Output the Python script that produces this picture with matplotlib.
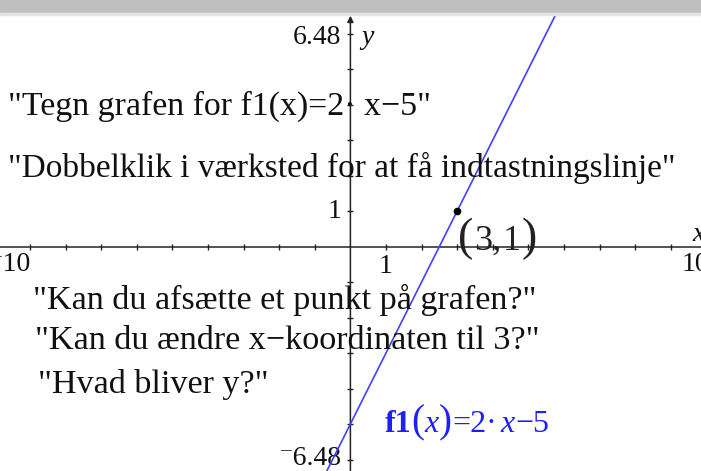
import matplotlib
matplotlib.use("Agg")
from matplotlib import pyplot as plt
from matplotlib.patches import Rectangle

# function f1(x) = slope*x + intercept
slope = 2
intercept = -5

# the plotted point
point_x = [3]
point_y = [1]

# axis ticks (every unit, zero skipped)
x_ticks = [-9, -8, -7, -6, -5, -4, -3, -2, -1, 1, 2, 3, 4, 5, 6, 7, 8, 9]
y_ticks = [-6, -5, -4, -3, -2, -1, 1, 2, 3, 4, 5, 6]

# texts shown on the screen
prompts = [
    '"Tegn grafen for f1(x)=2\u00b7 x\u22125"',
    '"Dobbelklik i v\u00e6rksted for at f\u00e5 indtastningslinje"',
    '"Kan du afs\u00e6tte et punkt p\u00e5 grafen?"',
    '"Kan du \u00e6ndre x\u2212koordinaten til 3?"',
    '"Hvad bliver y?"',
]

W, H = 701, 471
BAR = 13
X0, SX = 350.4, 35.6
Y0, SY = 246.5, 35.5
serif = ["Liberation Serif", "DejaVu Serif"]


def to_data(px, py):
    return (px - X0) / SX, (Y0 - py) / SY


def text_run(fig, px, py, pieces):
    # write pieces one after the other on a common baseline (pixels from top-left)
    renderer = fig.canvas.get_renderer()
    x = px
    for s, size, kw, gap in pieces:
        t = fig.text(x / W, 1 - py / H, s, fontsize=size, family=serif,
                     ha="left", va="baseline", **kw)
        bb = t.get_window_extent(renderer)
        x = bb.x1 + gap


fig = plt.figure(figsize=(W / 100, H / 100), dpi=100)
fig.patches.append(Rectangle((0, 1 - BAR / H), 1, BAR / H, transform=fig.transFigure,
                             color="#c0c0c0", zorder=0))
fig.patches.append(Rectangle((0, 1 - (BAR + 2) / H), 1, 2 / H, transform=fig.transFigure,
                             color="#e4e4e4", zorder=0))

ax = fig.add_axes([0, 0, 1, (H - BAR - 2) / H])
ax.set_xlim(to_data(0, 0)[0], to_data(W, 0)[0])
ax.set_ylim(to_data(0, H)[1], to_data(0, BAR + 2)[1])
ax.axis("off")

axis_col = "#222222"

# axes
ax.axhline(0, color=axis_col, lw=1.1, zorder=2)
ymin, ymax = ax.get_ylim()
ax.annotate("", xy=(0, ymax - 0.02), xytext=(0, ymin),
            arrowprops=dict(arrowstyle="-|>", color=axis_col, lw=1.1,
                            mutation_scale=9, shrinkA=0, shrinkB=0), zorder=2)
ax.plot(x_ticks, [0] * len(x_ticks), ls="none", marker="|", ms=5, mew=1,
        color=axis_col, zorder=2)
ax.plot([0] * len(y_ticks), y_ticks, ls="none", marker="_", ms=5, mew=1,
        color=axis_col, zorder=2)

# tick labels
lab = dict(family=serif, fontsize=20, color="#111111")
ax.text(*to_data(-12, 252), "\u207b10", ha="left", va="top", **lab)
ax.text(*to_data(682, 252), "10", ha="left", va="top", clip_on=True, **lab)
ax.text(1, -0.22, "1", ha="center", va="top", **lab)
ax.text(-0.25, 5.9, "6.48", ha="right", va="center", **lab)
ax.text(-0.25, 1, "1", ha="right", va="center", **lab)
ax.text(-0.25, -5.96, "\u207b6.48", ha="right", va="center", **lab)
ax.text(0.3, 5.9, "y", style="italic", ha="left", va="center", **lab)
ax.text(9.6, 0.35, "x", style="italic", ha="left", va="center", clip_on=True, **lab)

# graph and point
ax.axline((0, intercept), slope=slope, color="#4040ff", lw=1.2, zorder=3)
ax.plot(point_x, point_y, "o", color="black", ms=4.5, zorder=4)

# prompts
prompt_pos = [(8, 106, 24.4), (8, 168, 24), (33, 300, 24.6), (35, 341, 24.6),
              (38, 385, 24.6)]
for txt, (px, py, fs) in zip(prompts, prompt_pos):
    ax.text(*to_data(px, py), txt, family=serif, fontsize=fs, ha="left",
            va="center", color="#111111")

# point label (3,1) with tall parentheses
dark = {"color": "#222222"}
text_run(fig, 458, 250, [
    ("(", 33, dark, 1),
    ("3,", 26, dark, 2),
    ("1", 26, dark, 0),
    (")", 33, dark, 0),
])

# blue function label
blue = {"color": "#1f1ff5"}
text_run(fig, 385, 432, [
    ("f1", 23, dict(blue, weight="bold"), 0),
    ("(", 28, blue, 0),
    ("x", 23, dict(blue, style="italic"), 0),
    (")", 28, blue, 0),
    ("=2\u00b7", 23, blue, 4),
    ("x", 23, dict(blue, style="italic"), 1),
    ("\u22125", 23, blue, 0),
])

fig.savefig("out.png", dpi=100)
